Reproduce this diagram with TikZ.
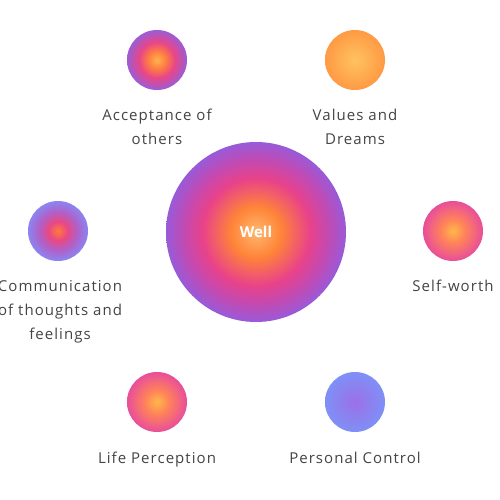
\documentclass[tikz,border=0pt]{standalone}
\usepackage{fontspec}
\setmainfont{Open Sans}
\newfontfamily\labfont[LetterSpace=7]{Open Sans}
\usetikzlibrary{positioning}
\definecolor{txt}{HTML}{444444}
\pgfdeclareradialshading{bigsh}{\pgfpointorigin}{%
 color(0bp)=(rgb,255:red,255;green,184;blue,110);
 color(7bp)=(rgb,255:red,255;green,132;blue,56);
 color(15bp)=(rgb,255:red,232;green,66;blue,138);
 color(20bp)=(rgb,255:red,195;green,74;blue,178);
 color(25bp)=(rgb,255:red,152;green,90;blue,216);
 color(50bp)=(rgb,255:red,152;green,90;blue,216)}
\pgfdeclareradialshading{accsh}{\pgfpointorigin}{%
 color(0bp)=(rgb,255:red,255;green,180;blue,80);
 color(7bp)=(rgb,255:red,255;green,128;blue,64);
 color(15bp)=(rgb,255:red,232;green,70;blue,135);
 color(25bp)=(rgb,255:red,155;green,92;blue,214);
 color(50bp)=(rgb,255:red,155;green,92;blue,214)}
\pgfdeclareradialshading{valsh}{\pgfpointorigin}{%
 color(0bp)=(rgb,255:red,255;green,194;blue,96);
 color(25bp)=(rgb,255:red,255;green,154;blue,68);
 color(50bp)=(rgb,255:red,255;green,154;blue,68)}
\pgfdeclareradialshading{comsh}{\pgfpointorigin}{%
 color(0bp)=(rgb,255:red,255;green,122;blue,60);
 color(8bp)=(rgb,255:red,232;green,72;blue,132);
 color(16bp)=(rgb,255:red,176;green,96;blue,200);
 color(25bp)=(rgb,255:red,138;green,133;blue,242);
 color(50bp)=(rgb,255:red,138;green,133;blue,242)}
\pgfdeclareradialshading{selfsh}{\pgfpointorigin}{%
 color(0bp)=(rgb,255:red,255;green,184;blue,72);
 color(10bp)=(rgb,255:red,255;green,130;blue,90);
 color(25bp)=(rgb,255:red,232;green,78;blue,154);
 color(50bp)=(rgb,255:red,232;green,78;blue,154)}
\pgfdeclareradialshading{persh}{\pgfpointorigin}{%
 color(0bp)=(rgb,255:red,155;green,112;blue,232);
 color(25bp)=(rgb,255:red,126;green,144;blue,246);
 color(50bp)=(rgb,255:red,126;green,144;blue,246)}
\tikzset{
 ball/.style={circle, inner sep=0pt, minimum size=60pt, shading=#1},
 lab/.style={text=txt, font=\labfont\fontsize{15}{24}\selectfont, align=center, inner sep=0pt, anchor=north},
}
\begin{document}
\begin{tikzpicture}[x=1pt,y=-1pt]
\useasboundingbox[fill=white] (0,0) rectangle (500,500);
\node[circle, inner sep=0pt, minimum size=180pt, shading=bigsh, text=white, font=\fontsize{15}{18}\selectfont\bfseries] (well) at (256,232) {Well};
\node[ball=accsh] (acc) at (157,60) {};
\node[ball=valsh] (val) at (355,60) {};
\node[ball=comsh] (com) at (58,231) {};
\node[ball=selfsh] (self) at (453,231) {};
\node[ball=selfsh] (life) at (157,402) {};
\node[ball=persh] (pers) at (355,402) {};
\node[lab] (accl) at (157,109) {Acceptance of\\others};
\node[lab] (vall) at (355,109) {Values and\\Dreams};
\node[lab] (coml) at (60,280) {Communication\\of thoughts and\\feelings};
\node[lab] (selfl) at (453,280) {Self-worth};
\node[lab] (lifel) at (157,452) {Life Perception};
\node[lab] (persl) at (355,452) {Personal Control};
\end{tikzpicture}
\end{document}
